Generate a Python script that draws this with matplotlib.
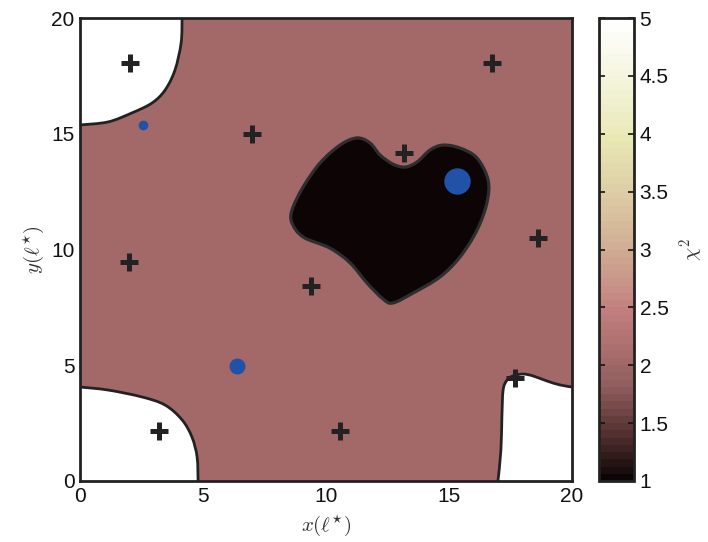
import numpy as np
import matplotlib
matplotlib.use('Agg')
import matplotlib.pyplot as plt
from matplotlib.path import Path
from matplotlib.patches import PathPatch
from matplotlib.colors import Normalize, ListedColormap

plt.rcParams['font.family'] = ['Liberation Sans', 'DejaVu Sans']
plt.rcParams['mathtext.fontset'] = 'cm'

# chi^2 levels of the regions
chi_blob = 1.0
chi_main = 2.0
chi_high = 5.0

# contour outlines (data units)
blob_x = [11.26, 11.79, 12.20, 12.72, 13.21, 13.70, 14.23, 14.76, 15.45, 16.14, 16.59, 16.54,
          16.14, 15.45, 14.63, 13.54, 12.72, 12.32, 11.67, 10.98, 10.16, 9.07, 8.62, 8.62,
          9.07, 9.76, 10.57]
blob_y = [14.82, 14.60, 14.08, 13.69, 13.56, 13.78, 14.30, 14.51, 14.38, 13.95, 13.00, 12.01,
          10.84, 9.68, 8.81, 8.12, 7.69, 7.86, 8.55, 9.42, 10.06, 10.54, 11.14, 11.71,
          12.70, 13.74, 14.51]

tl_x = [4.15, 4.11, 3.86, 3.46, 2.93, 2.11, 1.14, 0.0]
tl_y = [20.0, 18.92, 17.75, 16.89, 16.33, 15.90, 15.51, 15.38]

bl_x = [0.0, 1.14, 2.52, 3.46, 4.15, 4.55, 4.76, 4.80]
bl_y = [4.06, 3.93, 3.63, 3.28, 2.64, 1.90, 1.04, 0.0]

br_x = [16.99, 17.11, 17.15, 17.20, 17.36, 17.60, 18.01, 18.41, 18.98, 19.51, 20.0]
br_y = [0.0, 1.34, 2.76, 3.93, 4.36, 4.54, 4.62, 4.54, 4.32, 4.15, 4.06]

# plus markers
plus_x = [2.03, 16.75, 6.99, 13.17, 1.99, 9.39, 18.62, 17.68, 3.21, 10.57]
plus_y = [18.06, 18.06, 14.99, 14.17, 9.46, 8.42, 10.50, 4.45, 2.16, 2.16]

# blue dots
dot_x = [2.56, 15.33, 6.38]
dot_y = [15.38, 12.96, 4.97]
dot_s = [7, 19, 11.5]


def smooth(pts, closed):
    pts = np.asarray(pts, float)
    n = len(pts)
    verts = [pts[0]]
    codes = [Path.MOVETO]
    segs = n if closed else n - 1
    for i in range(segs):
        p0 = pts[(i - 1) % n] if (closed or i > 0) else pts[0]
        p1 = pts[i % n]
        p2 = pts[(i + 1) % n]
        p3 = pts[(i + 2) % n] if (closed or i + 2 < n) else pts[-1]
        verts += [p1 + (p2 - p0) / 6, p2 - (p3 - p1) / 6, p2]
        codes += [Path.CURVE4] * 3
    return verts, codes


# matlab-like pink, a bit darker at the low end
t = np.linspace(0, 1, 64)
base = plt.get_cmap('pink')(t)[:, :3]
dark = np.clip(base ** 1.6 + 0.02, 0, 1)
w = np.clip(t / 0.2, 0, 1)[:, None]
cmap = ListedColormap(w * base + (1 - w) * dark)
norm = Normalize(1, 5)
edge = '#222222'

fig = plt.figure(figsize=(7.08, 5.42), dpi=100)
ax = fig.add_axes([80 / 708, 61 / 542, 492 / 708, 463 / 542])
ax.set_facecolor(cmap(norm(chi_main)))

# corner regions
for xs, ys, corner in [(tl_x, tl_y, (0, 20)), (bl_x, bl_y, (0, 0)), (br_x, br_y, (20, 0))]:
    v, c = smooth(list(zip(xs, ys)), False)
    fill = PathPatch(Path(v + [corner, corner], c + [Path.LINETO, Path.CLOSEPOLY]),
                     facecolor=cmap(norm(chi_high)), edgecolor='none', zorder=1)
    ax.add_patch(fill)
    ax.add_patch(PathPatch(Path(v, c), facecolor='none', edgecolor=edge, lw=2, zorder=2))

# central low region
v, c = smooth(list(zip(blob_x, blob_y)), True)
ax.add_patch(PathPatch(Path(v + [v[0]], c + [Path.CLOSEPOLY]), facecolor=cmap(norm(chi_blob)),
                       edgecolor='#2e2e2e', lw=2.3, zorder=2))

ax.plot(plus_x, plus_y, ls='none', marker='+', ms=12.5, mew=3.6, color=edge, zorder=4)
for x, y, s in zip(dot_x, dot_y, dot_s):
    ax.plot(x, y, 'o', ms=s, color='#2152a8', mec='none', zorder=5)

ax.set_xlim(0, 20)
ax.set_ylim(0, 20)
ax.set_xticks([0, 5, 10, 15, 20])
ax.set_yticks([0, 5, 10, 15, 20])
ax.tick_params(length=0, labelsize=15, pad=4, colors='#111111')
for s in ax.spines.values():
    s.set_linewidth(2)
    s.set_color(edge)
    s.set_zorder(6)
ax.set_xlabel(r'$x(\ell^{\star})$', fontsize=15, labelpad=5, color='#333333')
ax.set_ylabel(r'$y(\ell^{\star})$', fontsize=15, labelpad=4, color='#333333')

cax = fig.add_axes([599 / 708, 61 / 542, 35 / 708, 463 / 542])
sm = plt.cm.ScalarMappable(norm=norm, cmap=cmap)
cb = fig.colorbar(sm, cax=cax, ticks=np.arange(1, 5.01, 0.5), format='%g')
cb.outline.set_linewidth(2)
cb.outline.set_edgecolor(edge)
cax.tick_params(direction='in', left=True, right=True, length=4, width=1.2,
                labelsize=15, colors='#111111', pad=4)
cb.set_label(r'$\chi^2$', fontsize=15, labelpad=7, color='#333333')

fig.savefig('out.png', dpi=100)
